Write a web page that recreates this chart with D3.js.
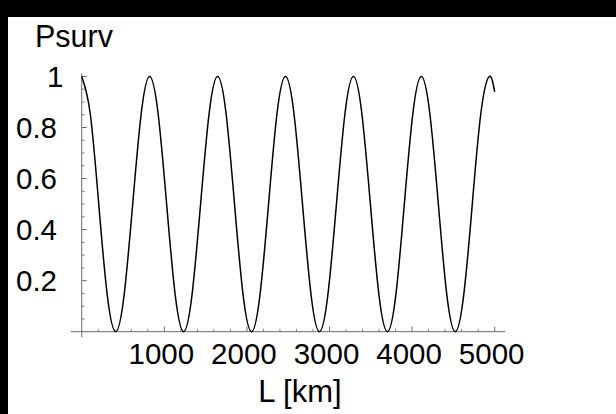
<!DOCTYPE html>
<html>
<head>
<meta charset="utf-8">
<script src="https://cdn.jsdelivr.net/npm/d3@7"></script>
<style>
  html, body { margin: 0; padding: 0; background: #000; }
  svg { display: block; }
  text { font-family: "Liberation Sans", Arial, Helvetica, sans-serif; fill: #000; }
</style>
</head>
<body>
<svg id="chart" width="616" height="414"></svg>
<script>
const distanceKm = [0, 103, 206, 308, 411, 514, 617, 720, 822, 925, 1028, 1131, 1234, 1336, 1439, 1542,
  1645, 1748, 1850, 1953, 2056, 2159, 2262, 2364, 2467, 2570, 2673, 2776, 2878, 2981, 3084, 3187,
  3290, 3392, 3495, 3598, 3701, 3804, 3906, 4009, 4112, 4215, 4318, 4420, 4523, 4626, 4729, 4832,
  4934, 5000];
// Survival probability at those distances
const psurv = [1, 0.854, 0.5, 0.146, 0, 0.146, 0.5, 0.854, 1, 0.854, 0.5, 0.146, 0, 0.146, 0.5, 0.854,
  1, 0.854, 0.5, 0.146, 0, 0.146, 0.5, 0.854, 1, 0.854, 0.5, 0.146, 0, 0.146, 0.5, 0.854,
  1, 0.854, 0.5, 0.146, 0, 0.146, 0.5, 0.854, 1, 0.854, 0.5, 0.146, 0, 0.146, 0.5, 0.854,
  1, 0.94];
const xTickValues = [1000, 2000, 3000, 4000, 5000];
const xMinorTicks = [200, 400, 600, 800, 1200, 1400, 1600, 1800, 2200, 2400, 2600, 2800,
  3200, 3400, 3600, 3800, 4200, 4400, 4600, 4800];
const yTickValues = [0.2, 0.4, 0.6, 0.8, 1];
const yMinorTicks = [0.05, 0.1, 0.15, 0.25, 0.3, 0.35, 0.45, 0.5, 0.55, 0.65, 0.7, 0.75, 0.85, 0.9, 0.95];
const xTitle = "L [km]";
const yTitle = "Psurv";

const svg = d3.select("#chart");
svg.append("rect").attr("x", 8).attr("y", 17).attr("width", 608).attr("height", 397).attr("fill", "#fff");

const x = d3.scaleLinear().domain([-130, 5125]).range([71, 505]);
const y = d3.scaleLinear().domain([-0.022, 1.012]).range([337.3, 73.4]);

const axisColor = "#6a6a6a";
const g = svg.append("g");

// Axes lines (cross at origin)
g.append("line").attr("x1", x(-130)).attr("x2", x(5125)).attr("y1", y(0)).attr("y2", y(0))
  .attr("stroke", axisColor).attr("stroke-width", 1);
g.append("line").attr("x1", x(0)).attr("x2", x(0)).attr("y1", y(-0.022)).attr("y2", y(1.012))
  .attr("stroke", axisColor).attr("stroke-width", 1);

// x ticks (inside, upward)
g.selectAll(".xmaj").data(xTickValues).enter().append("line")
  .attr("x1", d => x(d)).attr("x2", d => x(d)).attr("y1", y(0)).attr("y2", y(0) - 5)
  .attr("stroke", axisColor).attr("stroke-width", 1);
g.selectAll(".xmin").data(xMinorTicks).enter().append("line")
  .attr("x1", d => x(d)).attr("x2", d => x(d)).attr("y1", y(0)).attr("y2", y(0) - 3)
  .attr("stroke", axisColor).attr("stroke-width", 0.8);
// y ticks (inside, rightward)
g.selectAll(".ymaj").data(yTickValues).enter().append("line")
  .attr("x1", x(0)).attr("x2", x(0) + 5).attr("y1", d => y(d)).attr("y2", d => y(d))
  .attr("stroke", axisColor).attr("stroke-width", 1);
g.selectAll(".ymin").data(yMinorTicks).enter().append("line")
  .attr("x1", x(0)).attr("x2", x(0) + 3).attr("y1", d => y(d)).attr("y2", d => y(d))
  .attr("stroke", axisColor).attr("stroke-width", 0.8);

// tick labels
g.selectAll(".xlab").data(xTickValues).enter().append("text")
  .attr("x", d => x(d) - 3).attr("y", 363.5)
  .attr("text-anchor", "middle").attr("font-size", 29.5)
  .text(d => d3.format("d")(d));
g.selectAll(".ylab").data(yTickValues).enter().append("text")
  .attr("x", d => d === 1 ? 63.5 : 57).attr("y", d => y(d)).attr("dy", "0.36em")
  .attr("text-anchor", "end").attr("font-size", 29.5)
  .text(d => d === 1 ? "1" : d3.format(".1f")(d));

// titles
svg.append("text").attr("x", 35).attr("y", 47).attr("font-size", 30.5).text(yTitle);
svg.append("text").attr("x", 300).attr("y", 402).attr("text-anchor", "middle").attr("font-size", 31).text(xTitle);

// curve
const line = d3.line()
  .x((d, i) => x(distanceKm[i]))
  .y(d => y(d))
  .curve(d3.curveNatural);
g.append("path").datum(psurv).attr("d", line)
  .attr("fill", "none").attr("stroke", "#000").attr("stroke-width", 1.5);
</script>
</body>
</html>
